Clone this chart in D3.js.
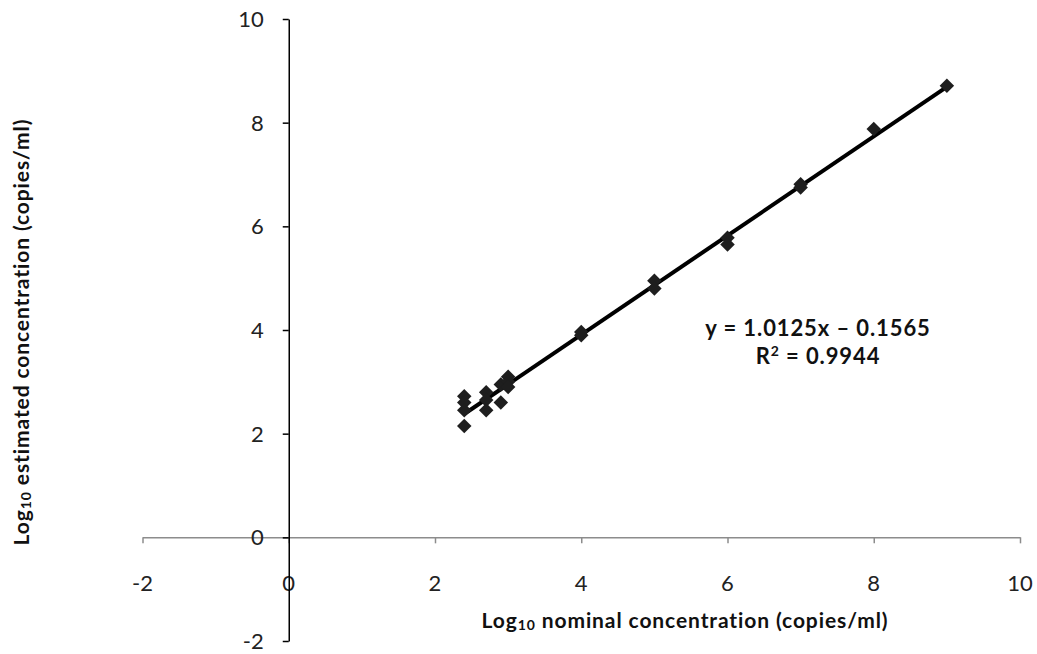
<!DOCTYPE html>
<html>
<head>
<meta charset="utf-8">
<script src="https://cdn.jsdelivr.net/npm/d3@7"></script>
<style>
  body { margin: 0; background: #fff; }
  svg { display: block; }
  .tick-label { font-family: Lato, "Open Sans", sans-serif; font-size: 22px; fill: #222; }
  .title { font-family: Lato, "Open Sans", sans-serif; font-size: 21px; font-weight: bold; fill: #111; letter-spacing: 0.9px; }
</style>
</head>
<body>
<svg id="chart" width="1037" height="654"></svg>
<script>
// Nominal vs estimated concentration (log10 copies/ml)
const nominal = [2.4, 2.4, 2.4, 2.4, 2.7, 2.7, 2.7, 2.9, 2.9, 3.0, 3.0, 3.0,
                 4, 4, 5, 5, 6, 6, 7, 7, 8, 9];
const estimated = [2.72, 2.6, 2.45, 2.15, 2.8, 2.65, 2.45, 2.6, 2.95, 3.1, 3.0, 2.9,
                   3.9, 3.96, 4.95, 4.8, 5.78, 5.65, 6.81, 6.75, 7.88, 8.71];
// trendline ends as drawn in the figure
const trendX = [2.4, 9];
const trendY = [2.38, 8.69];
const xTicks = [-2, 0, 2, 4, 6, 8, 10];
const yTicks = [-2, 0, 2, 4, 6, 8, 10];
const equation = ['y = 1.0125x \u2013 0.1565', '0.9944'];

const svg = d3.select('#chart');

const x = d3.scaleLinear().domain([-2, 10]).range([142.5, 1020]);
const y = d3.scaleLinear().domain([-2, 10]).range([641, 19]);

// x axis (grey, through y = 0)
const xAxis = svg.append('g')
    .attr('transform', `translate(0,${y(0)})`)
    .call(d3.axisBottom(x).tickValues(xTicks).tickSize(6).tickSizeOuter(0).tickFormat(''));
xAxis.select('.domain').attr('stroke', '#8c8c8c').attr('stroke-width', 1.5);
xAxis.selectAll('.tick line').attr('stroke', '#8c8c8c').attr('stroke-width', 1.5);

svg.selectAll('.xlab')
    .data(xTicks)
    .enter()
    .append('text')
    .attr('class', 'tick-label')
    .attr('x', d => x(d))
    .attr('y', y(0) + 54)
    .attr('text-anchor', 'middle')
    .text(d => d);

// y axis (black, through x = 0)
const yAxis = svg.append('g')
    .attr('transform', `translate(${x(0)},0)`)
    .call(d3.axisLeft(y).tickValues(yTicks).tickSize(6).tickSizeOuter(0).tickFormat(''));
yAxis.select('.domain').attr('stroke', '#000').attr('stroke-width', 1.5);
yAxis.selectAll('.tick line').attr('stroke', '#000').attr('stroke-width', 1.5);

svg.selectAll('.ylab')
    .data(yTicks)
    .enter()
    .append('text')
    .attr('class', 'tick-label')
    .attr('x', x(0) - 25)
    .attr('y', d => y(d) + 8)
    .attr('text-anchor', 'end')
    .text(d => d);

// trendline
svg.append('line')
    .attr('x1', x(trendX[0]))
    .attr('y1', y(trendY[0]))
    .attr('x2', x(trendX[1]))
    .attr('y2', y(trendY[1]))
    .attr('stroke', '#000')
    .attr('stroke-width', 4);

// diamond markers
const diamond = d3.symbol().type(d3.symbolSquare).size(105);
svg.selectAll('.pt')
    .data(nominal.map((d, i) => ({x: d, y: estimated[i]})))
    .enter()
    .append('path')
    .attr('d', diamond)
    .attr('transform', d => `translate(${x(d.x)},${y(d.y)}) rotate(45)`)
    .attr('fill', '#1e1e1e');

// equation
svg.append('text')
    .attr('class', 'title')
    .attr('x', 818)
    .attr('y', 336)
    .attr('text-anchor', 'middle')
    .style('font-size', '22px')
    .text(equation[0]);

const r2 = svg.append('text')
    .attr('class', 'title')
    .attr('x', 818)
    .attr('y', 364)
    .attr('text-anchor', 'middle')
    .style('font-size', '22px');
r2.append('tspan').text('R');
r2.append('tspan').attr('dy', -8).style('font-size', '14px').text('2');
r2.append('tspan').attr('dy', 8).text(' = ' + equation[1]);

// axis titles
const xt = svg.append('text')
    .attr('class', 'title')
    .attr('x', 685)
    .attr('y', 628)
    .attr('text-anchor', 'middle');
xt.append('tspan').text('Log');
xt.append('tspan').style('font-size', '14px').attr('dy', 2).text('10');
xt.append('tspan').attr('dy', -2).text(' nominal concentration (copies/ml)');

const yt = svg.append('text')
    .attr('class', 'title')
    .attr('transform', 'translate(29,332) rotate(-90)')
    .attr('text-anchor', 'middle');
yt.append('tspan').text('Log');
yt.append('tspan').style('font-size', '14px').attr('dy', 2).text('10');
yt.append('tspan').attr('dy', -2).text(' estimated concentration (copies/ml)');
</script>
</body>
</html>
